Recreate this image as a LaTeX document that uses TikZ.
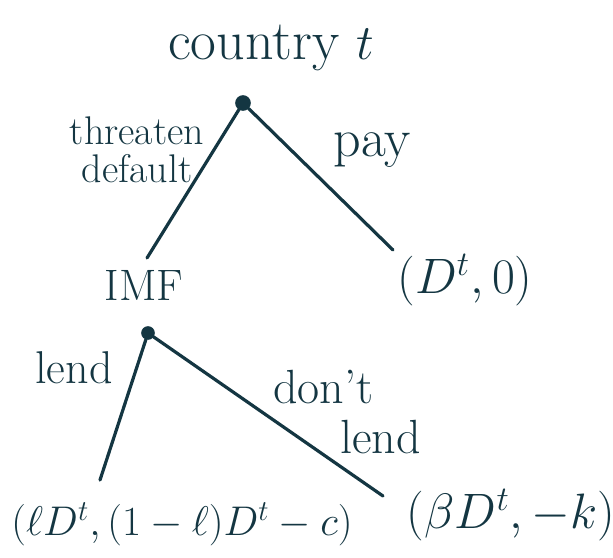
\documentclass[tikz,border=0pt]{standalone}
\usepackage{tikz}
\usetikzlibrary{positioning}
\definecolor{inkteal}{RGB}{20,54,66}

\begin{document}
\begin{tikzpicture}[x=0.5pt, y=-0.5pt,
    every node/.style={text=inkteal},
    dot/.style={circle, fill=inkteal, draw=inkteal, line width=0.8pt, inner sep=0pt, minimum size=#1},
    dot/.default=7pt,
    player/.style={font=\fontsize{22}{24}\selectfont},
    movelbl/.style={font=\fontsize{20}{19}\selectfont, align=left, inner sep=1pt},
    payoff/.style={font=\fontsize{22}{24}\selectfont},
    branch/.style={draw=inkteal, line width=1.6pt, line cap=round}]
\useasboundingbox (0,0) rectangle (613,557);

    % ---------------- country t ----------------
    \node[dot] (country) at (243,103) {};
    \node[player, font=\fontsize{28}{30}\selectfont] (countrylbl) at (271,48) {country $t$};

    \coordinate (imftip) at (147,258);
    \coordinate (paytip) at (393,250);
    \draw[branch] (country) -- (imftip);
    \draw[branch] (country) -- (paytip);
    \node[movelbl, align=center] (threatlbl) at (137,150) {threaten\\default};
    \node[movelbl, font=\fontsize{27}{28}\selectfont] (paylbl) at (372,150) {pay};

    % ---------------- IMF ----------------
    \node[player] (imflbl) at (144,285) {IMF};
    \node[payoff, font=\fontsize{24}{26}\selectfont] (paypayoff) at (465,280) {$(D^t,0)$};
    \node[dot=6pt] (imf) at (148,333) {};

    \coordinate (lendtip) at (100,480);
    \coordinate (nolendtip) at (383,496);
    \draw[branch] (imf) -- (lendtip);
    \draw[branch] (imf) -- (nolendtip);
    \node[movelbl, font=\fontsize{23}{23}\selectfont] (lendlbl) at (74,368) {lend};
    \node[movelbl, font=\fontsize{24}{25}\selectfont] (nolendlbl) at (347,412) {don't\\\hspace*{1.4em}lend};

    % ---------------- payoffs ----------------
    \node[payoff] (lendpayoff) at (182,524) {$(\ell D^t,(1-\ell)D^t-c)$};
    \node[payoff, font=\fontsize{25}{27}\selectfont] (nolendpayoff) at (511,515) {$(\beta D^t,-k)$};

\end{tikzpicture}
\end{document}
